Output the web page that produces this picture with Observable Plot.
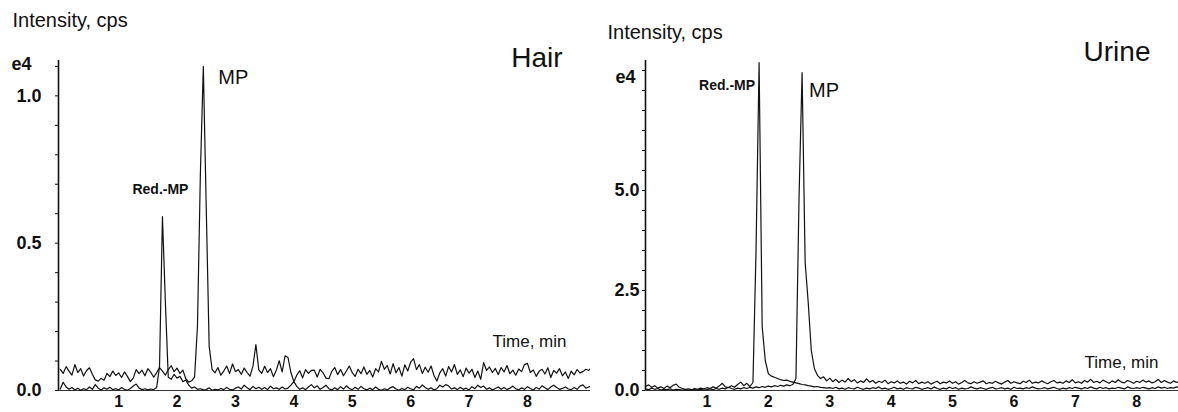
<!DOCTYPE html>
<html><head><meta charset="utf-8">
<script src="https://cdn.jsdelivr.net/npm/d3@7"></script>
<script src="https://cdn.jsdelivr.net/npm/@observablehq/plot@0.6"></script>
<style>
body{margin:0;background:#fff;}
#wrap{position:relative;width:1178px;height:412px;overflow:hidden;background:#fff;}
#left{position:absolute;left:0;top:0;}
#right{position:absolute;left:590px;top:0;}
</style></head><body><div id="wrap"><div id="left"></div><div id="right"></div></div>
<script>
// sampling interval of the chromatograms (min per scan)
const DWELL = 0.05;

// Hair sample, intensity in e4 cps
const hairMP = [
 0.072,0.058,0.081,0.066,0.052,0.088,0.061,0.074,0.049,0.068,
 0.077,0.055,0.036,0.032,0.041,0.035,0.058,0.047,0.066,0.051,
 0.060,0.044,0.063,0.048,0.030,0.042,0.071,0.057,0.069,0.050,
 0.074,0.062,0.045,0.060,0.078,0.066,0.052,0.071,0.084,0.064,
 0.076,0.058,0.069,0.040,0.028,0.033,0.045,0.220,0.740,1.100,
 0.620,0.150,0.072,0.060,0.078,0.052,0.066,0.083,0.058,0.090,
 0.064,0.071,0.055,0.076,0.061,0.049,0.083,0.156,0.070,0.058,
 0.082,0.061,0.074,0.047,0.069,0.101,0.063,0.118,0.112,0.061,
 0.030,0.052,0.067,0.043,0.071,0.058,0.068,0.069,0.046,0.072,
 0.060,0.042,0.040,0.065,0.078,0.054,0.071,0.050,0.066,0.083,
 0.061,0.048,0.072,0.057,0.080,0.055,0.068,0.046,0.074,0.063,
 0.099,0.072,0.085,0.056,0.091,0.060,0.078,0.049,0.087,0.066,
 0.096,0.108,0.071,0.088,0.058,0.079,0.062,0.083,0.051,0.032,
 0.060,0.074,0.049,0.081,0.063,0.088,0.055,0.070,0.047,0.076,
 0.059,0.072,0.044,0.066,0.038,0.095,0.068,0.080,0.061,0.075,
 0.054,0.078,0.063,0.085,0.057,0.069,0.052,0.073,0.064,0.088,
 0.092,0.061,0.070,0.048,0.065,0.072,0.056,0.077,0.044,0.068,
 0.059,0.074,0.050,0.063,0.041,0.066,0.053,0.071,0.060,0.064,
 0.072,0.068,0.079];
const hairRedMP = [
 0.005,0.028,0.012,0.004,0.010,0.002,0.008,0.001,0.006,0.003,
 0.012,0.004,0.020,0.008,0.002,0.009,0.004,0.011,0.003,0.006,
 0.002,0.010,0.004,0.001,0.007,0.015,0.022,0.008,0.003,0.006,
 0.002,0.005,0.003,0.010,0.080,0.590,0.300,0.045,0.038,0.055,
 0.042,0.048,0.030,0.036,0.018,0.008,0.012,0.004,0.006,0.002,
 0.003,0.009,0.001,0.004,0.002,0.007,0.003,0.010,0.004,0.002,
 0.008,0.012,0.005,0.018,0.009,0.003,0.014,0.006,0.011,0.004,
 0.010,0.003,0.015,0.006,0.009,0.004,0.012,0.005,0.008,0.018,
 0.030,0.014,0.004,0.009,0.003,0.012,0.020,0.009,0.016,0.004,
 0.010,0.018,0.006,0.002,0.009,0.003,0.013,0.005,0.016,0.007,
 0.003,0.011,0.004,0.014,0.006,0.002,0.008,0.003,0.012,0.004,
 0.001,0.006,0.002,0.009,0.013,0.005,0.001,0.007,0.003,0.011,
 0.006,0.002,0.014,0.008,0.019,0.010,0.004,0.009,0.002,0.006,
 0.018,0.012,0.020,0.016,0.005,0.009,0.003,0.011,0.004,0.008,
 0.002,0.013,0.006,0.018,0.010,0.015,0.004,0.009,0.002,0.007,
 0.012,0.004,0.010,0.003,0.008,0.015,0.006,0.002,0.009,0.004,
 0.013,0.007,0.002,0.010,0.005,0.016,0.009,0.003,0.012,0.018,
 0.010,0.004,0.007,0.012,0.005,0.003,0.010,0.004,0.015,0.019,
 0.008,0.012,0.016];

// Urine sample, intensity in e4 cps
const urineRedMP = [
 0.10,0.14,0.08,0.12,0.06,0.09,0.05,0.11,0.07,0.13,
 0.16,0.08,0.05,0.03,0.04,0.02,0.05,0.03,0.06,0.04,
 0.07,0.05,0.09,0.06,0.11,0.18,0.09,0.07,0.12,0.08,
 0.15,0.21,0.12,0.18,0.10,0.20,3.50,8.20,1.60,0.75,
 0.42,0.36,0.33,0.30,0.27,0.25,0.26,0.23,0.21,0.19,
 0.17,0.15,0.14,0.12,0.11,0.09,0.10,0.08,0.07,0.06,
 0.07,0.05,0.08,0.04,0.06,0.03,0.07,0.05,0.04,0.08,
 0.05,0.03,0.06,0.04,0.07,0.05,0.09,0.04,0.06,0.03,
 0.05,0.08,0.04,0.06,0.03,0.07,0.05,0.04,0.08,0.06,
 0.03,0.05,0.07,0.04,0.09,0.05,0.03,0.06,0.04,0.08,
 0.05,0.07,0.03,0.06,0.04,0.05,0.09,0.06,0.04,0.07,
 0.05,0.03,0.06,0.08,0.04,0.05,0.07,0.04,0.06,0.03,
 0.08,0.05,0.06,0.04,0.07,0.05,0.09,0.06,0.04,0.05,
 0.07,0.04,0.06,0.08,0.05,0.03,0.06,0.04,0.07,0.05,
 0.08,0.06,0.04,0.07,0.05,0.09,0.06,0.04,0.08,0.05,
 0.07,0.04,0.06,0.05,0.08,0.06,0.04,0.09,0.06,0.05,
 0.07,0.05,0.08,0.06,0.04,0.07,0.05,0.09,0.06,0.08,
 0.05,0.07,0.06,0.09,0.07];
const urineMP = [
 0.04,0.02,0.06,0.03,0.05,0.01,0.03,0.02,0.04,0.01,
 0.03,0.02,0.01,0.02,0.00,0.01,0.02,0.01,0.03,0.01,
 0.02,0.04,0.02,0.05,0.03,0.06,0.04,0.08,0.05,0.03,
 0.06,0.04,0.07,0.05,0.08,0.06,0.09,0.07,0.10,0.08,
 0.11,0.09,0.12,0.10,0.13,0.11,0.14,0.12,0.15,0.30,
 4.80,7.95,3.20,2.20,1.00,0.55,0.38,0.30,0.34,0.24,
 0.31,0.22,0.28,0.20,0.26,0.21,0.30,0.22,0.27,0.19,
 0.24,0.20,0.29,0.21,0.25,0.18,0.23,0.20,0.26,0.17,
 0.22,0.19,0.24,0.18,0.21,0.16,0.23,0.19,0.25,0.17,
 0.21,0.18,0.22,0.16,0.20,0.23,0.17,0.21,0.19,0.24,
 0.18,0.22,0.16,0.20,0.25,0.19,0.17,0.22,0.18,0.21,
 0.24,0.17,0.20,0.18,0.23,0.19,0.16,0.21,0.25,0.18,
 0.22,0.19,0.17,0.23,0.20,0.26,0.18,0.21,0.19,0.24,
 0.20,0.17,0.22,0.25,0.19,0.21,0.18,0.24,0.20,0.27,
 0.19,0.22,0.18,0.25,0.21,0.28,0.20,0.23,0.19,0.26,
 0.22,0.18,0.24,0.20,0.27,0.21,0.19,0.25,0.22,0.18,
 0.23,0.20,0.26,0.21,0.24,0.19,0.22,0.28,0.20,0.25,
 0.21,0.18,0.24,0.20,0.23];

// Tick values
const xTickLabels = [1, 2, 3, 4, 5, 6, 7, 8];
const hairYLabels = [0, 0.5, 1.0];
const hairYMinor = [0, 0.1, 0.2, 0.3, 0.4, 0.5, 0.6, 0.7, 0.8, 0.9, 1.0, 1.1];
const urineYLabels = [0, 2.5, 5.0];
const urineYMinor = [0, 0.5, 1, 1.5, 2, 2.5, 3, 3.5, 4, 4.5, 5, 5.5, 6, 6.5, 7, 7.5, 8];

// Text
const yTitle = "Intensity, cps";
const xTitle = "Time, min";
const expLabel = "e4";
const panelNames = ["Hair", "Urine"];
const peakNames = ["MP", "Red.-MP"];

const FONT = "'Liberation Sans', Arial, Helvetica, sans-serif";
const toSeries = vals => vals.map((v, i) => ({t: i * DWELL, v}));
const apex = vals => { const s = toSeries(vals); return [s[d3.maxIndex(s, d => d.v)]]; };

function panel(o) {
  const txt = (text, opts) => Plot.text([text], {text: d => d, fontFamily: FONT, fill: "#111", ...opts});
  return Plot.plot({
    width: o.width, height: 412,
    marginLeft: o.marginLeft, marginRight: o.marginRight, marginTop: 60, marginBottom: 22,
    style: {fontFamily: FONT, background: "#fff", overflow: "visible"},
    x: {domain: o.xDomain, label: null},
    y: {domain: o.yDomain, label: null},
    marks: [
      Plot.axisY(o.yMinor, {tickSize: 3, tickFormat: () => "", stroke: "#111", label: null}),
      Plot.axisY(o.yLabels, {tickSize: 0, tickPadding: o.yPad, tickFormat: d3.format(".1f"), fontSize: 18, fontWeight: "bold", fill: "#111", label: null}),
      Plot.axisX(xTickLabels, {tickSize: 0, tickPadding: 5, tickFormat: d3.format("d"), fontSize: 16, fontWeight: "bold", fill: "#111", label: null}),
      Plot.ruleY([0], {stroke: "#333", strokeWidth: 1}),
      Plot.ruleX([o.xDomain[0]], {stroke: "#111", strokeWidth: 1.6}),
      Plot.line(toSeries(o.a), {x: "t", y: "v", stroke: "#111", strokeWidth: 1.2}),
      Plot.line(toSeries(o.b), {x: "t", y: "v", stroke: "#111", strokeWidth: 1.2}),
      txt(yTitle, {frameAnchor: "top-left", dx: o.yTitleDx, dy: o.yTitleDy, textAnchor: "start", fontSize: 20, lineAnchor: "middle"}),
      txt(expLabel, {frameAnchor: "top-left", dx: o.expDx, dy: o.expDy, textAnchor: "start", fontSize: 18, fontWeight: "bold", lineAnchor: "middle"}),
      txt(o.name, {frameAnchor: "top-right", dx: o.nameDx, dy: o.nameDy, textAnchor: "end", fontSize: 28, lineAnchor: "middle"}),
      txt(xTitle, {frameAnchor: "bottom-right", dx: o.timeDx, dy: o.timeDy, textAnchor: "end", fontSize: 17, lineAnchor: "middle"}),
      Plot.text(apex(o.mpSeries), {x: "t", y: "v", text: () => peakNames[0], dx: o.mpDx, dy: o.mpDy, textAnchor: "start", fontSize: 20, fontFamily: FONT, fill: "#111", lineAnchor: "middle"}),
      Plot.text(apex(o.redSeries), {x: "t", y: "v", text: () => peakNames[1], dx: o.redDx, dy: o.redDy, textAnchor: o.redAnchor, fontSize: 14, fontWeight: "bold", fontFamily: FONT, fill: "#111", lineAnchor: "middle"})
    ]
  });
}

document.getElementById("left").append(panel({
  width: 600, marginLeft: 58, marginRight: 3,
  xDomain: [-0.03, 9.2], yDomain: [0, 1.12],
  yMinor: hairYMinor, yLabels: hairYLabels, yPad: 17,
  a: hairMP, b: hairRedMP, mpSeries: hairMP, redSeries: hairRedMP,
  name: panelNames[0],
  yTitleDx: -46, yTitleDy: -40, expDx: -47, expDy: 4,
  nameDx: -35, nameDy: -2, timeDx: -31, timeDy: -49,
  mpDx: 15, mpDy: 11, redDx: -2, redDy: -27, redAnchor: "middle"
}));

document.getElementById("right").append(panel({
  width: 588, marginLeft: 55, marginRight: 0,
  xDomain: [0, 8.68], yDomain: [0, 8.25],
  yMinor: urineYMinor, yLabels: urineYLabels, yPad: 6,
  a: urineRedMP, b: urineMP, mpSeries: urineMP, redSeries: urineRedMP,
  name: panelNames[1],
  yTitleDx: -38, yTitleDy: -28, expDx: -30, expDy: 17,
  nameDx: -28, nameDy: -8, timeDx: -20, timeDy: -28,
  mpDx: 7, mpDy: 18, redDx: -4, redDy: 23, redAnchor: "end"
}));
</script></body></html>
